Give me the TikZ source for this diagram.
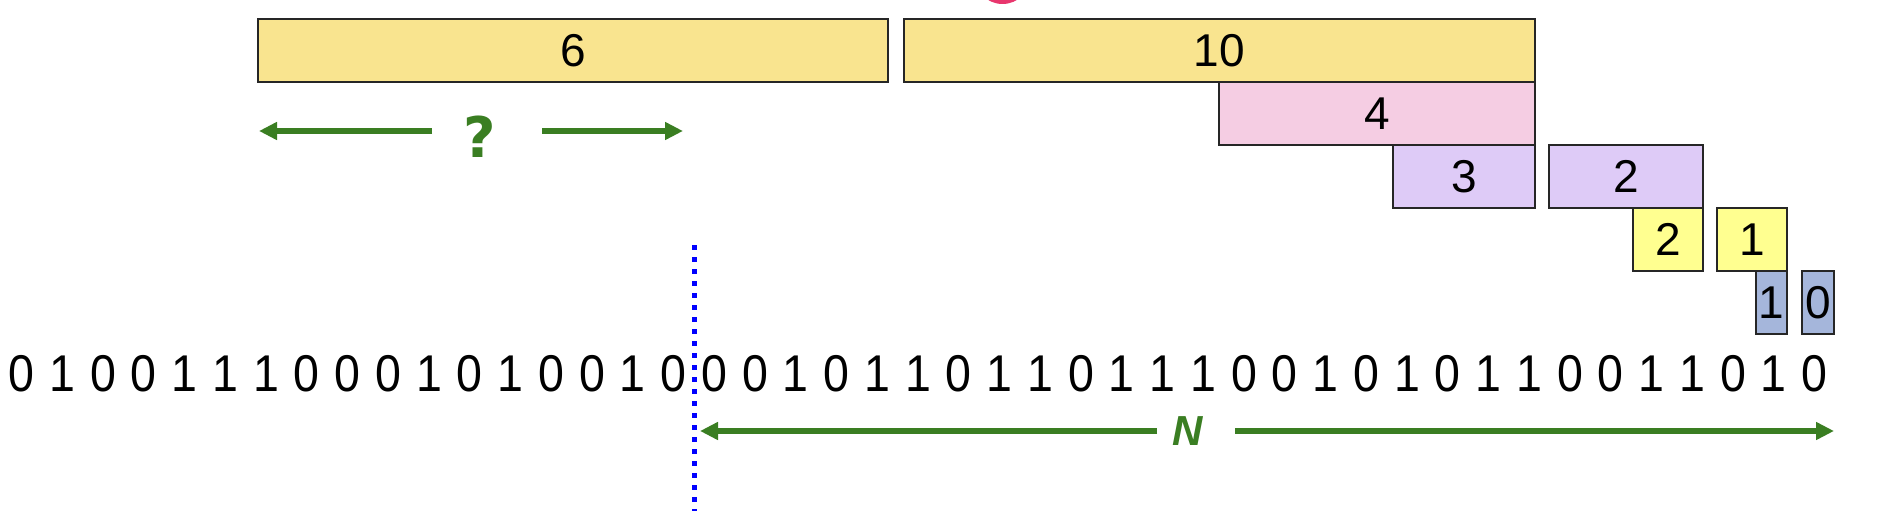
\documentclass[tikz,border=0pt]{standalone}
\usepackage{fontspec}
\setmainfont{Liberation Sans}
\newfontfamily\bitfont[FakeStretch=0.9]{Liberation Sans}
\newfontfamily\qfont{DejaVu Sans}
\usetikzlibrary{arrows.meta}
\definecolor{gold}{HTML}{F9E48F}
\definecolor{pinkbox}{HTML}{F5CDE3}
\definecolor{purp}{HTML}{DECBF7}
\definecolor{yel}{HTML}{FFFF90}
\definecolor{bluebox}{HTML}{A5B6DB}
\definecolor{grn}{HTML}{3A7E22}
\definecolor{pinkc}{HTML}{E8366D}
\begin{document}
\begin{tikzpicture}[x=1pt,y=-1pt,
  seg/.style={draw=black!85, line width=1.5pt, rectangle, inner sep=0pt,
    minimum height=63pt, font=\fontsize{46}{48}\selectfont},
  bitnum/.style={font=\bitfont\fontsize{51.7}{54}\selectfont, inner sep=0pt, anchor=base},
  garr/.style={draw=grn, line width=6pt, -{Triangle[length=18pt,width=17pt]}},
  sepline/.style={draw=blue, line width=5pt, dash pattern=on 5pt off 7pt}]
\clip (0,0) rectangle (1882,511);
\fill[white] (0,0) rectangle (1882,511);
% partially visible mark at the top
\node[circle, fill=pinkc, minimum size=56pt, inner sep=0pt] (mark) at (1002.5,-24) {};
% segment boxes
\node[seg, fill=gold, minimum width=630pt] (b6) at (573,50.5) {6};
\node[seg, fill=gold, minimum width=631pt] (b10) at (1219.5,50.5) {10};
\node[seg, fill=pinkbox, minimum width=316pt] (b4) at (1377,113.5) {4};
\node[seg, fill=purp, minimum width=142pt] (b3) at (1464,176.5) {3};
\node[seg, fill=purp, minimum width=154pt] (p2) at (1626,176.5) {2};
\node[seg, fill=yel, minimum width=70pt] (y2) at (1668,239.5) {2};
\node[seg, fill=yel, minimum width=70pt] (y1) at (1752,239.5) {1};
\node[seg, fill=bluebox, minimum width=31pt] (l1) at (1771.5,302.5) {1};
\node[seg, fill=bluebox, minimum width=32pt] (l0) at (1818,302.5) {0};
% separator
\coordinate (sepT) at (694,245);
\coordinate (sepB) at (694,515);
\draw[sepline] (sepT) -- (sepB);
% bit string
\foreach \b [count=\i from 0] in {0,1,0,0,1,1,1,0,0,0,1,0,1,0,0,1,0,0,0,1,0,1,1,0,1,1,0,1,1,1,0,0,1,0,1,0,1,1,0,0,1,1,0,1,0}
  \node[bitnum] (d\i) at ({21.6+40.75*\i},391) {\b};
% question arrows
\node[font=\qfont\bfseries\fontsize{56}{58}\selectfont, text=grn, anchor=base, inner sep=0pt] (q) at (480,157) {?};
\coordinate (qa1) at (432,131);
\coordinate (qa2) at (259,131);
\coordinate (qb1) at (542,131);
\coordinate (qb2) at (683,131);
\draw[garr] (qa1) -- (qa2);
\draw[garr] (qb1) -- (qb2);
% N arrows
\node[font=\bfseries\itshape\fontsize{42}{44}\selectfont, text=grn, anchor=base, inner sep=0pt] (nl) at (1188,445) {N};
\coordinate (na1) at (1157,431);
\coordinate (na2) at (700,431);
\coordinate (nb1) at (1235,431);
\coordinate (nb2) at (1834,431);
\draw[garr] (na1) -- (na2);
\draw[garr] (nb1) -- (nb2);
\end{tikzpicture}
\end{document}
